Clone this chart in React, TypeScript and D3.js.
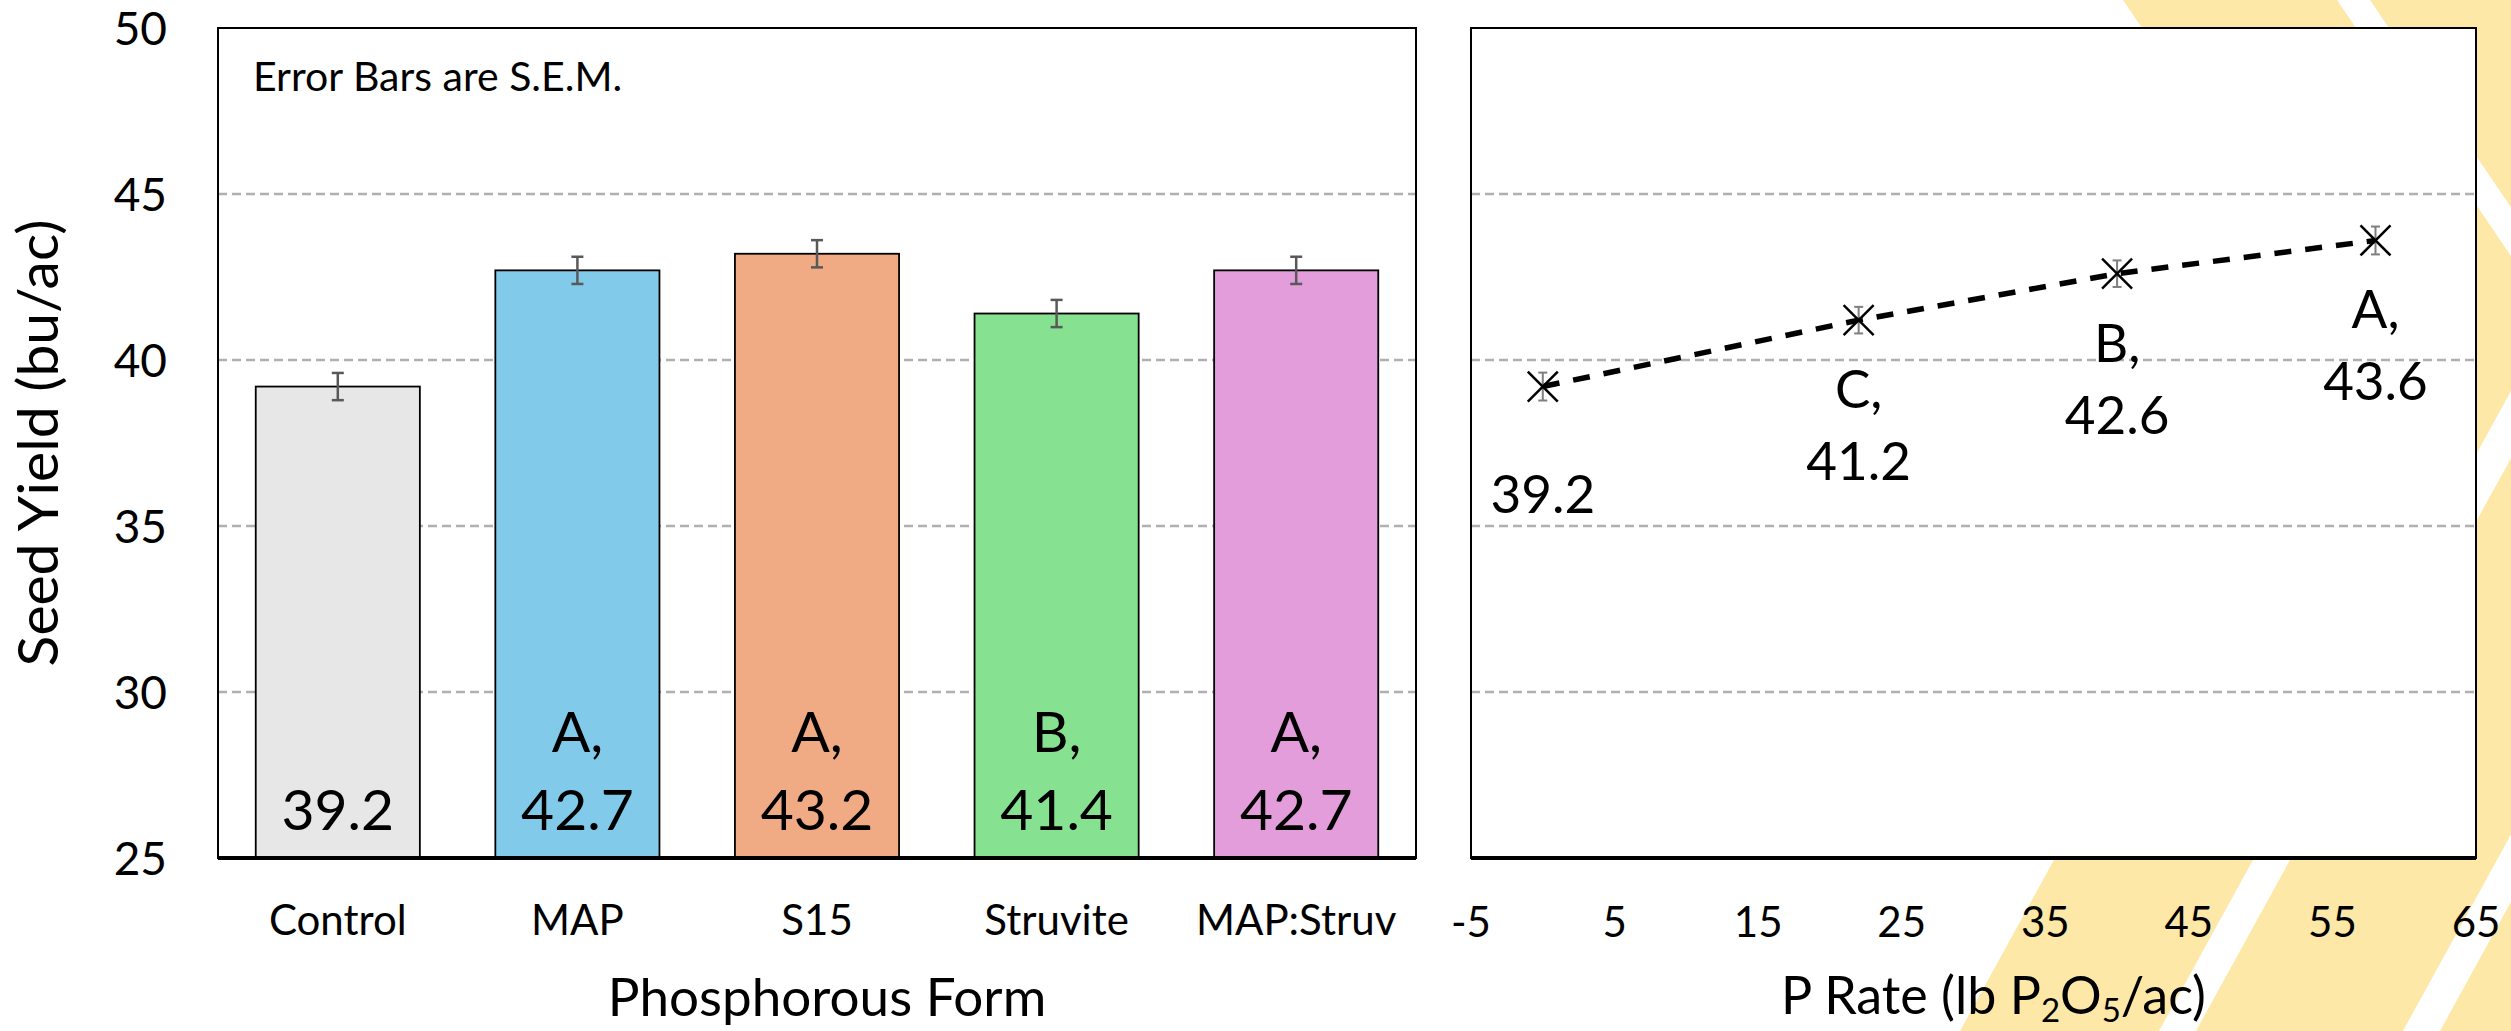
import React from "react";
import * as d3 from "d3";

// ---- data ----
const categories = ["Control", "MAP", "S15", "Struvite", "MAP:Struv"];
const formMeans = [39.2, 42.7, 43.2, 41.4, 42.7];
const formSem = [0.41, 0.41, 0.41, 0.41, 0.41];
const formLetters = ["", "A,", "A,", "B,", "A,"];
const formColors = ["#e7e7e7", "#82caea", "#f0aa84", "#86e291", "#e39ddb"];

const rates = [0, 22, 40, 58];
const rateMeans = [39.2, 41.2, 42.6, 43.6];
const rateSem = [0.42, 0.4, 0.4, 0.42];
const rateLetters = ["", "C,", "B,", "A,"];

const yTicks = [25, 30, 35, 40, 45, 50];
const xRateTicks = [-5, 5, 15, 25, 35, 45, 55, 65];

const W = 2511;
const H = 1031;
const FONT = "Lato, 'Open Sans', 'Noto Sans', sans-serif";
const YELLOW = "#fde8a8";

export default function App() {
  const top = 28;
  const bottom = 858;
  const L = { x0: 218, x1: 1416 };
  const R = { x0: 1471, x1: 2476 };

  const y = d3.scaleLinear().domain([25, 50]).range([bottom, top]);
  const xb = d3
    .scaleBand<string>()
    .domain(categories)
    .range([L.x0, L.x1])
    .paddingInner(0.315)
    .paddingOuter(0.1575);
  const xr = d3.scaleLinear().domain([-5, 65]).range([R.x0, R.x1]);

  const grid = yTicks.filter((t) => t > 25 && t < 50);

  const line = d3
    .line<number>()
    .x((_, i) => xr(rates[i]))
    .y((d) => y(d));

  // decorative background chevron stripes
  const sTop = 0.68;
  const sBot = 0.55;
  const apexY = 328;
  const apexX = 2123 + sTop * apexY;
  const yellowPoly = [
    [2123, 0],
    [W, 0],
    [W, H],
    [1960, H],
    [apexX, apexY],
  ];
  const topBand = (xa: number, xb2: number) => [
    [xa, 0],
    [xb2, 0],
    [xb2 + sTop * 500, 500],
    [xa + sTop * 500, 500],
  ];
  const botBand = (xa: number, xb2: number) => {
    const xAt = (x860: number, yy: number) => x860 + sBot * (860 - yy);
    return [
      [xAt(xa, H), H],
      [xAt(xb2, H), H],
      [xAt(xb2, 250), 250],
      [xAt(xa, 250), 250],
    ];
  };
  const whiteBands = [topBand(2337, 2370), botBand(2253, 2290), botBand(2497, 2534)];
  const poly = (pts: number[][]) => pts.map((p) => p.join(",")).join(" ");

  const gridStyle = { stroke: "#b0b0b0", strokeWidth: 2.5, strokeDasharray: "9,5" };

  return (
    <svg
      width={W}
      height={H}
      style={{ position: "fixed", left: 0, top: 0, background: "#fff" }}
      fontFamily={FONT}
    >
      <rect x={0} y={0} width={W} height={H} fill="#fff" />
      <polygon points={poly(yellowPoly)} fill={YELLOW} />
      {whiteBands.map((b, i) => (
        <polygon key={i} points={poly(b)} fill="#fff" />
      ))}

      {/* ---------- Left panel ---------- */}
      <rect x={L.x0} y={top} width={L.x1 - L.x0} height={bottom - top} fill="#fff" />
      {grid.map((t) => (
        <line key={t} x1={L.x0} x2={L.x1} y1={y(t)} y2={y(t)} {...gridStyle} />
      ))}
      {categories.map((c, i) => (
        <rect
          key={c}
          x={xb(c)}
          y={y(formMeans[i])}
          width={xb.bandwidth()}
          height={y(25) - y(formMeans[i])}
          fill={formColors[i]}
          stroke="#000"
          strokeWidth={1.8}
        />
      ))}
      {categories.map((c, i) => {
        const cx = (xb(c) as number) + xb.bandwidth() / 2;
        const y1 = y(formMeans[i] + formSem[i]);
        const y2 = y(formMeans[i] - formSem[i]);
        return (
          <g key={c} stroke="#595959" strokeWidth={2.5}>
            <line x1={cx} x2={cx} y1={y1} y2={y2} />
            <line x1={cx - 6} x2={cx + 6} y1={y1} y2={y1} />
            <line x1={cx - 6} x2={cx + 6} y1={y2} y2={y2} />
          </g>
        );
      })}
      <rect x={L.x0} y={top} width={L.x1 - L.x0} height={bottom - top} fill="none" stroke="#000" strokeWidth={2} />
      <line x1={L.x0} x2={L.x1} y1={bottom} y2={bottom} stroke="#000" strokeWidth={4} />
      {categories.map((c, i) => {
        const cx = (xb(c) as number) + xb.bandwidth() / 2;
        return (
          <g key={c} fontSize={57} textAnchor="middle" fill="#000">
            {formLetters[i] && (
              <text x={cx} y={752}>
                {formLetters[i]}
              </text>
            )}
            <text x={cx} y={830}>
              {formMeans[i].toFixed(1)}
            </text>
          </g>
        );
      })}
      <text x={253} y={91} fontSize={41} fill="#000">
        Error Bars are S.E.M.
      </text>
      {yTicks.map((t) => (
        <text key={t} x={167} y={y(t)} dy="0.36em" fontSize={46} textAnchor="end" fill="#000">
          {t}
        </text>
      ))}
      {categories.map((c) => (
        <text
          key={c}
          x={(xb(c) as number) + xb.bandwidth() / 2}
          y={935}
          fontSize={42}
          textAnchor="middle"
          fill="#000"
        >
          {c}
        </text>
      ))}
      <text x={(L.x0 + L.x1) / 2 + 10} y={1016} fontSize={53} textAnchor="middle" fill="#000">
        Phosphorous Form
      </text>
      <text
        transform={`translate(58, ${(top + bottom) / 2}) rotate(-90)`}
        fontSize={57}
        textAnchor="middle"
        fill="#000"
      >
        Seed Yield (bu/ac)
      </text>

      {/* ---------- Right panel ---------- */}
      <rect x={R.x0} y={top} width={R.x1 - R.x0} height={bottom - top} fill="#fff" />
      {grid.map((t) => (
        <line key={t} x1={R.x0} x2={R.x1} y1={y(t)} y2={y(t)} {...gridStyle} />
      ))}
      <rect x={R.x0} y={top} width={R.x1 - R.x0} height={bottom - top} fill="none" stroke="#000" strokeWidth={2} />
      <line x1={R.x0} x2={R.x1} y1={bottom} y2={bottom} stroke="#000" strokeWidth={4} />
      <path
        d={line(rateMeans) || ""}
        fill="none"
        stroke="#000"
        strokeWidth={5.5}
        strokeDasharray="17,14"
      />
      {rates.map((r, i) => {
        const cx = xr(r);
        const cy = y(rateMeans[i]);
        const y1 = y(rateMeans[i] + rateSem[i]);
        const y2 = y(rateMeans[i] - rateSem[i]);
        const m = 15;
        return (
          <g key={r}>
            <g stroke="#7f7f7f" strokeWidth={2}>
              <line x1={cx} x2={cx} y1={y1} y2={y2} />
              <line x1={cx - 4.5} x2={cx + 4.5} y1={y1} y2={y1} />
              <line x1={cx - 4.5} x2={cx + 4.5} y1={y2} y2={y2} />
            </g>
            <g stroke="#000" strokeWidth={2.5}>
              <line x1={cx - m} x2={cx + m} y1={cy - m} y2={cy + m} />
              <line x1={cx - m} x2={cx + m} y1={cy + m} y2={cy - m} />
            </g>
            <g fontSize={53} textAnchor="middle" fill="#000">
              {rateLetters[i] ? (
                <>
                  <text x={cx} y={cy + 88}>
                    {rateLetters[i]}
                  </text>
                  <text x={cx} y={cy + 160}>
                    {rateMeans[i].toFixed(1)}
                  </text>
                </>
              ) : (
                <text x={cx} y={cy + 126}>
                  {rateMeans[i].toFixed(1)}
                </text>
              )}
            </g>
          </g>
        );
      })}
      {xRateTicks.map((t) => (
        <text key={t} x={xr(t)} y={937} fontSize={42} textAnchor="middle" fill="#000">
          {t}
        </text>
      ))}
      <text x={(R.x0 + R.x1) / 2 + 20} y={1014} fontSize={52} textAnchor="middle" fill="#000">
        P Rate (lb P
        <tspan fontSize={33} dy={8}>
          2
        </tspan>
        <tspan dy={-8}>O</tspan>
        <tspan fontSize={33} dy={8}>
          5
        </tspan>
        <tspan dy={-8}>/ac)</tspan>
      </text>
    </svg>
  );
}
